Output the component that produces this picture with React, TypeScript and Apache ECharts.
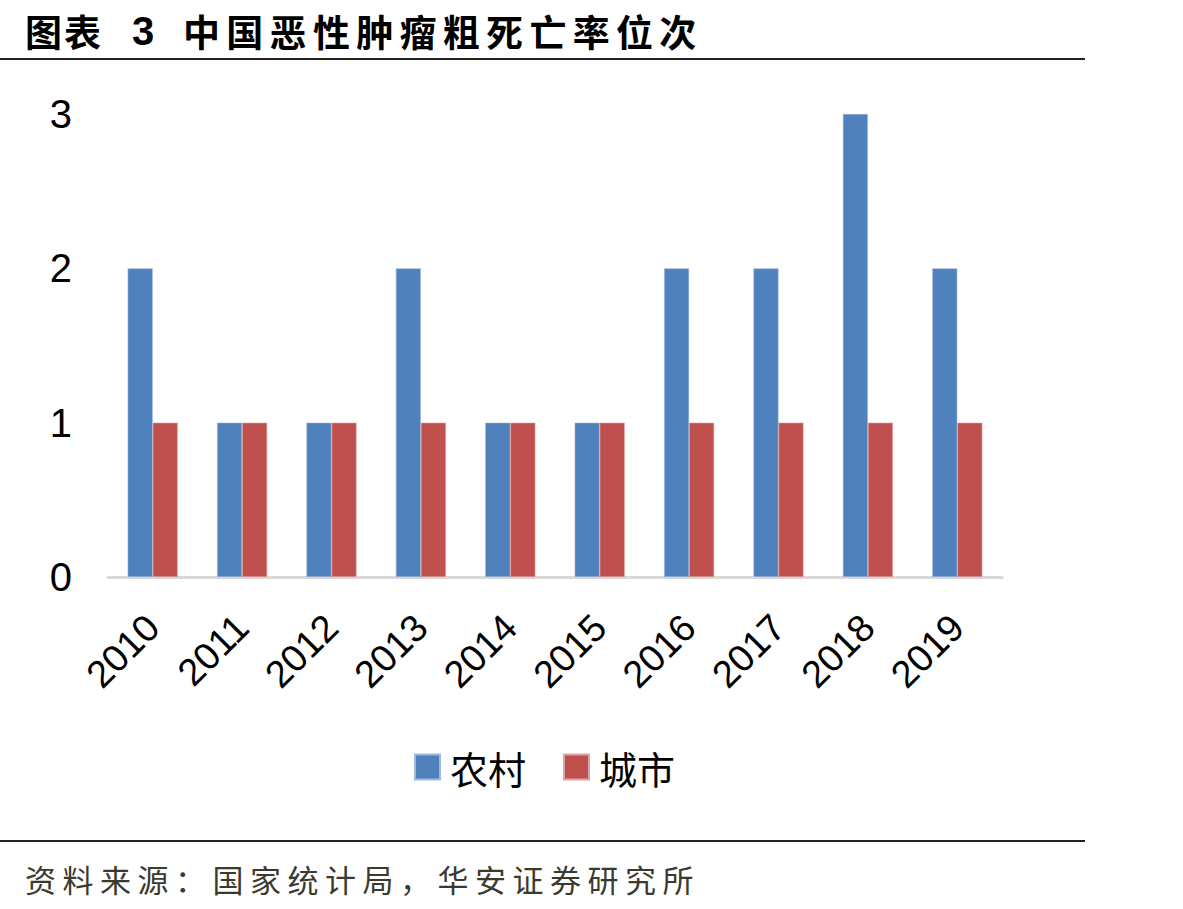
import React, { useEffect, useRef } from "react";
import * as echarts from "echarts";

const years = ["2010", "2011", "2012", "2013", "2014", "2015", "2016", "2017", "2018", "2019"];
const rural = [2, 1, 1, 2, 1, 1, 2, 2, 3, 2];
const urban = [1, 1, 1, 1, 1, 1, 1, 1, 1, 1];
const seriesNames = ["农村", "城市"];
const titleHead = ["图", "表", "3"];
const titleBody = "中国恶性肿瘤粗死亡率位次";
const sourceText = "资料来源：国家统计局，华安证券研究所";

const CJK = '"Noto Sans CJK SC", "Liberation Sans", sans-serif';
const LATIN = '"Liberation Sans", Arial, sans-serif';

// Lay out a string one glyph at a time so the wide character spacing is kept.
function spacedText(text: string, x0: number, y: number, step: number, style: any) {
  const out: any[] = [];
  let x = x0;
  for (const ch of text) {
    out.push({ type: "text", x, y, style: { text: ch, ...style, verticalAlign: "middle" } });
    x += step;
  }
  return out;
}

export default function App() {
  const ref = useRef<HTMLDivElement>(null);
  useEffect(() => {
    const chart = echarts.init(ref.current!, null, { renderer: "svg" });
    const titleStyle = { fontSize: 37, fontWeight: "bold", fill: "#000", fontFamily: CJK };
    const headX = [25, 64, 132];
    chart.setOption({
      animation: false,
      backgroundColor: "#ffffff",
      grid: { left: 108, right: 181, top: 114, bottom: 332, containLabel: false },
      xAxis: {
        type: "category",
        data: years,
        axisLine: { lineStyle: { color: "#d9d9d9", width: 3 } },
        axisTick: { show: false },
        axisLabel: {
          rotate: 45,
          interval: 0,
          margin: 44,
          color: "#000",
          fontSize: 38,
          fontFamily: LATIN,
        },
      },
      yAxis: {
        type: "value",
        min: 0,
        max: 3,
        interval: 1,
        splitLine: { show: false },
        axisLine: { show: false },
        axisTick: { show: false },
        axisLabel: {
          color: "#000",
          fontSize: 40,
          margin: 36,
          fontFamily: LATIN,
        },
      },
      legend: {
        top: 743,
        left: 409,
        itemWidth: 25,
        itemHeight: 25,
        itemGap: 37,
        icon: "rect",
        textStyle: { fontSize: 38, color: "#000", fontFamily: CJK, padding: [0, 0, 0, 5] },
        data: seriesNames,
      },
      series: [
        {
          name: seriesNames[0],
          type: "bar",
          data: rural,
          barWidth: "28%",
          barGap: "0%",
          itemStyle: { color: "#4F81BD", borderColor: "#9fb9dd", borderWidth: 0.6 },
        },
        {
          name: seriesNames[1],
          type: "bar",
          data: urban,
          barWidth: "28%",
          itemStyle: { color: "#C0504D", borderColor: "#e0a3a1", borderWidth: 0.6 },
        },
      ],
      graphic: [
        ...titleHead.map((ch, i) => ({
          type: "text",
          x: headX[i],
          y: 31,
          style: {
            text: ch,
            ...titleStyle,
            fontSize: i === 2 ? 40 : 37,
            fontFamily: i === 2 ? LATIN : CJK,
            verticalAlign: "middle",
          },
        })),
        ...spacedText(titleBody, 183, 31, 43.3, titleStyle),
        {
          type: "line",
          shape: { x1: 0, y1: 59, x2: 1085, y2: 59 },
          style: { stroke: "#222", lineWidth: 2 },
        },
        {
          type: "line",
          shape: { x1: 0, y1: 841, x2: 1085, y2: 841 },
          style: { stroke: "#222", lineWidth: 2 },
        },
        ...spacedText(sourceText, 25, 878, 37.5, {
          fontSize: 31,
          fill: "#3b3a2e",
          fontFamily: CJK,
        }),
      ],
    });
    return () => chart.dispose();
  }, []);
  return (
    <div
      ref={ref}
      style={{ position: "fixed", left: 0, top: 0, width: 1183, height: 909, background: "#fff" }}
    />
  );
}
